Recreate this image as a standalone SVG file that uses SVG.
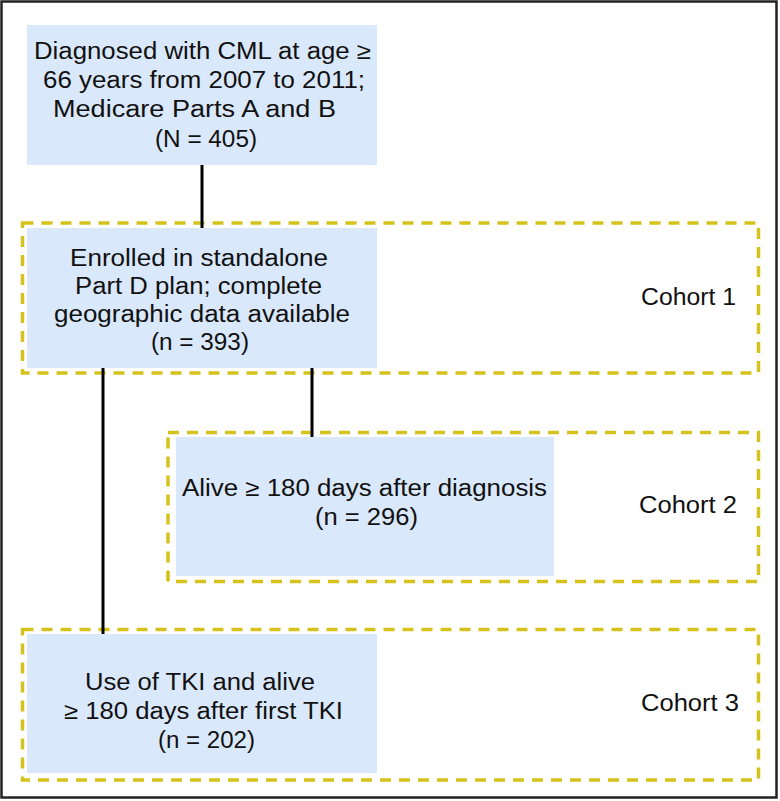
<svg xmlns="http://www.w3.org/2000/svg" width="780" height="801" viewBox="0 0 780 801">
<style>
.box{fill:#dae8fb;stroke:none}
.cohort{fill:none;stroke:#d5c21c;stroke-width:3.5;stroke-dasharray:11 8}
.t{font-family:"Liberation Sans",Arial,sans-serif;font-size:23.5px;fill:#111}
.c{font-family:"Liberation Sans",Arial,sans-serif;font-size:23.5px;fill:#111}
.ln{stroke:#000;stroke-width:3;fill:none}
</style>
<rect x="0" y="0" width="780" height="801" fill="#fff"/>
<rect x="1.5" y="1.5" width="775" height="796" fill="none" stroke="#222" stroke-width="2.5"/>
<g id="cohorts">
<rect id="cohort1" class="cohort" x="22.5" y="223" width="736" height="150"/>
<rect id="cohort2" class="cohort" x="168" y="432.5" width="590.5" height="149"/>
<rect id="cohort3" class="cohort" x="22.5" y="629.5" width="736" height="150.5"/>
</g>
<g id="connectors">
<line class="ln" x1="202" y1="165" x2="202" y2="228"/>
<line class="ln" x1="312" y1="368" x2="312" y2="437"/>
<line class="ln" x1="103" y1="368" x2="103" y2="634"/>
</g>
<g id="node1">
<rect class="box" x="27" y="25" width="350" height="140"/>
<text class="t" x="34" y="59" textLength="337" lengthAdjust="spacingAndGlyphs">Diagnosed with CML at age ≥</text>
<text class="t" x="43" y="88" textLength="322" lengthAdjust="spacingAndGlyphs">66 years from 2007 to 2011;</text>
<text class="t" x="53" y="117" textLength="283" lengthAdjust="spacingAndGlyphs">Medicare Parts A and B</text>
<text class="t" x="155" y="146.5" textLength="102" lengthAdjust="spacingAndGlyphs">(N = 405)</text>
</g>
<g id="node2">
<rect class="box" x="27" y="228" width="350" height="140"/>
<text class="c" x="70" y="265.5" textLength="258" lengthAdjust="spacingAndGlyphs">Enrolled in standalone</text>
<text class="c" x="75" y="293.5" textLength="247" lengthAdjust="spacingAndGlyphs">Part D plan; complete</text>
<text class="c" x="54" y="321.5" textLength="296" lengthAdjust="spacingAndGlyphs">geographic data available</text>
<text class="c" x="151" y="349.5" textLength="98" lengthAdjust="spacingAndGlyphs">(n = 393)</text>
</g>
<g id="label1"><text class="c" x="641" y="305" textLength="95" lengthAdjust="spacingAndGlyphs">Cohort 1</text></g>
<g id="node3">
<rect class="box" x="176" y="437" width="378" height="139"/>
<text class="c" x="182" y="496" textLength="365" lengthAdjust="spacingAndGlyphs">Alive ≥ 180 days after diagnosis</text>
<text class="c" x="315" y="525" textLength="103" lengthAdjust="spacingAndGlyphs">(n = 296)</text>
</g>
<g id="label2"><text class="c" x="639" y="513" textLength="98" lengthAdjust="spacingAndGlyphs">Cohort 2</text></g>
<g id="node4">
<rect class="box" x="27" y="634" width="350" height="139"/>
<text class="c" x="85" y="690" textLength="230" lengthAdjust="spacingAndGlyphs">Use of TKI and alive</text>
<text class="c" x="64" y="719" textLength="279" lengthAdjust="spacingAndGlyphs">≥ 180 days after first TKI</text>
<text class="c" x="158" y="748" textLength="97" lengthAdjust="spacingAndGlyphs">(n = 202)</text>
</g>
<g id="label3"><text class="c" x="641" y="711" textLength="98" lengthAdjust="spacingAndGlyphs">Cohort 3</text></g>
</svg>
